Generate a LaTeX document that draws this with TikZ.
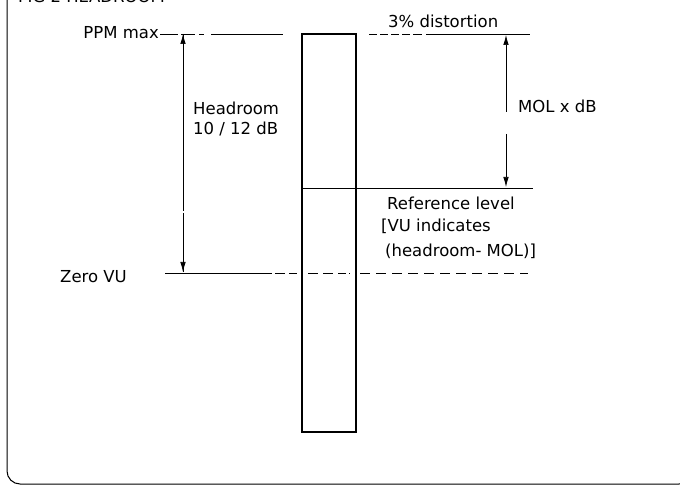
\documentclass[tikz,border=0pt]{standalone}
\usepackage{fontspec}
\setmainfont{DejaVu Sans}
\usetikzlibrary{arrows.meta}
\begin{document}
\begin{tikzpicture}[x=1pt,y=-1pt,
  thin line/.style={line width=0.7pt},
  lbl/.style={anchor=base west, inner sep=0pt, font=\fontsize{16.5}{19}\selectfont},
  tip/.style={-{Latex[length=10pt,width=5.5pt]}},
  dimline/.style={thin line, dash pattern=on 28pt off 3pt on 2pt off 3pt}]
\useasboundingbox (0,0) rectangle (680,486);
\clip (0,0) rectangle (680,486);
% frame
\draw[line width=1pt, rounded corners=13pt] (7,-30) -- (7,484) -- (692,484) -- (692,-30);
% title (cut off at top, as in the reference)
\node[lbl] (ttl) at (18,3) {FIG 2 HEADROOM};
% bar
\node (bar) [draw, line width=1.3pt, minimum width=54pt, minimum height=398pt, inner sep=0pt] at (329,233) {};
% coordinates
\coordinate (ppmA) at (160,34);
\coordinate (ppmB) at (283,34);
\coordinate (disA) at (369,34);
\coordinate (disB) at (530,34);
\coordinate (refA) at (bar.west |- 0,188);
\coordinate (refB) at (533,188);
\coordinate (zA) at (165,273);
\coordinate (zB) at (297,273);
\coordinate (zC) at (308,273);
\coordinate (zD) at (350,273);
\coordinate (zE) at (360,273);
\coordinate (zF) at (528,273);
\coordinate (hTop) at (183,34);
\coordinate (hBot) at (183,272);
\coordinate (hMid) at (183,150);
\coordinate (mTop) at (506,35);
\coordinate (mA) at (506,112);
\coordinate (mB) at (506,134);
\coordinate (mBot) at (506,187);
% texts
\node[lbl, anchor=base east] (ppm) at (159,39) {PPM max};
\node[lbl] (dist) at (388,28) {3\% distortion};
\node[lbl] (head1) at (193,115) {Headroom};
\node[lbl] (head2) at (193,135) {10 / 12 dB};
\node[lbl] (mol) at (518,113) {MOL x dB};
\node[lbl] (ref1) at (387,210) {Reference level};
\node[lbl] (ref2) at (381,232) {[VU indicates};
\node[lbl] (ref3) at (385,257) {(headroom- MOL)]};
\node[lbl] (zero) at (60,283) {Zero VU};
% level lines
\draw[thin line, dash pattern=on 18pt off 3pt on 14pt off 4pt on 5pt off 7pt on 90pt] (ppmA) -- (ppmB);
\draw[thin line, dash pattern=on 8pt off 3pt on 8pt off 3pt on 8pt off 3pt on 8pt off 3pt on 9pt off 4pt on 120pt] (disA) -- (disB);
\draw[thin line] (refA) -- (refB);
\draw[thin line, dash pattern=on 107pt off 3pt on 10pt off 4pt on 9pt] (zA) -- (zB);
\draw[thin line, dash pattern=on 10pt off 5pt on 10pt off 5pt on 8pt off 3pt on 2pt] (zC) -- (zD);
\draw[thin line, dash pattern=on 10pt off 6pt] (zE) -- (zF);
% headroom arrow
\draw[dimline] (hTop) -- (hBot);
\draw[thin line, tip] (hMid) -- (hTop);
\draw[thin line, tip, dash pattern=on 60pt off 3pt on 2pt off 3pt] (hMid) -- (hBot);
% MOL arrow
\draw[thin line, tip] (mA) -- (mTop);
\draw[thin line, tip] (mB) -- (mBot);
\end{tikzpicture}
\end{document}
